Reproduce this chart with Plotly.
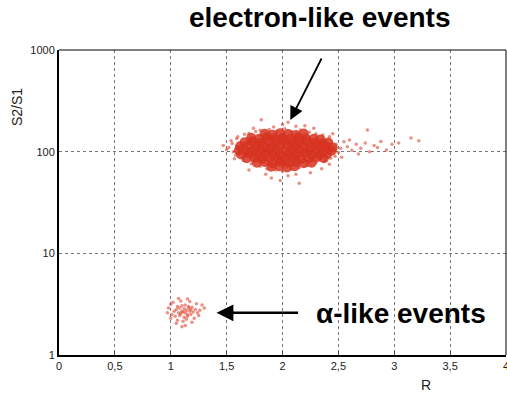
import plotly.graph_objects as go
import math

# Electron-like events: dense core
core_x = [1.84,1.91,1.98,2.05,2.12,2.19,
          1.72,1.79,1.86,1.93,2.00,2.07,2.14,2.21,2.28,2.34,
          1.66,1.73,1.80,1.87,1.94,2.01,2.08,2.15,2.22,2.29,2.36,2.41,
          1.62,1.69,1.76,1.83,1.90,1.97,2.04,2.11,2.18,2.25,2.32,2.39,2.45,
          1.61,1.68,1.75,1.82,1.89,1.96,2.03,2.10,2.17,2.24,2.31,2.38,2.44,
          1.63,1.70,1.77,1.84,1.91,1.98,2.05,2.12,2.19,2.26,2.33,2.40,
          1.68,1.75,1.82,1.89,1.96,2.03,2.10,2.17,2.24,2.31,2.37,
          1.77,1.84,1.91,1.98,2.05,2.12,2.19,2.26,
          1.90,1.97,2.04,2.11]
core_y = [150,147,152,149,146,151,
          137,134,138,135,136,133,137,135,134,132,
          124,126,122,125,123,126,121,124,125,122,120,123,
          113,115,112,114,111,113,115,112,114,111,113,112,110,
          103,101,104,102,105,103,101,104,102,103,101,104,102,
          94,96,93,95,94,92,95,93,96,94,93,95,
          86,87,85,88,86,84,87,85,86,88,86,
          78,79,77,80,78,79,77,78,
          71,72,70,72]

# Electron-like events: sparse halo
halo_x = [1.70,1.76,1.80,1.88,1.95,2.02,2.08,2.16,2.24,2.30,2.36,1.81,2.00,2.12,1.92,2.28,1.66,2.42,2.45,2.20,1.74,2.05,
          1.55,1.52,1.56,1.58,1.54,1.50,1.59,1.57,1.47,1.60,
          2.48,2.52,2.50,2.55,2.58,2.62,2.60,2.66,2.70,2.74,2.78,2.76,2.82,2.88,2.93,3.04,3.15,2.47,2.53,2.68,2.85,2.98,3.22,
          1.65,1.72,1.80,1.86,1.94,2.00,2.08,2.15,2.22,2.30,2.38,2.43,1.85,2.05,2.15,1.90,2.25,1.98,2.35,1.70,2.42,2.12]
halo_y = [152,158,162,165,160,168,158,163,155,150,146,206,185,178,175,170,148,140,150,180,170,195,
          120,110,100,92,128,105,135,85,115,140,
          118,108,98,125,112,103,130,118,108,122,100,163,115,126,104,122,136,90,88,95,110,118,128,
          82,76,72,68,66,64,67,70,73,78,82,86,60,58,49,55,62,52,68,66,75,60]

# Alpha-like events
alpha_x = [1.05,1.08,1.10,1.12,1.14,1.16,1.18,1.07,1.09,1.11,1.13,1.15,1.17,1.20,
           1.03,1.06,1.10,1.13,1.16,1.19,1.22,1.01,1.04,1.08,1.12,1.15,1.18,1.24,
           0.98,1.00,1.06,1.11,1.14,1.21,1.26,1.28,1.02,1.09,1.17,1.23,
           0.97,1.05,1.13,1.19,1.30,1.07,1.15,1.10,1.25,1.00]
alpha_y = [2.8,2.9,2.7,2.85,2.75,2.9,2.8,2.6,2.55,2.65,2.6,2.5,2.7,2.65,
           2.7,3.0,3.05,3.1,3.0,2.95,2.8,2.5,2.4,2.45,2.35,2.4,2.5,2.6,
           2.9,2.3,2.2,2.15,2.25,2.3,2.75,3.1,3.3,3.4,3.35,3.2,
           2.6,2.05,1.95,2.1,2.9,3.6,3.55,1.9,2.45,3.15]

x_ticks = [0, 0.5, 1, 1.5, 2, 2.5, 3, 3.5, 4]
x_ticktext = ["0", "0,5", "1", "1,5", "2", "2,5", "3", "3,5", "4"]
y_ticks = [1, 10, 100, 1000]
y_ticktext = ["1", "10", "100", "1000"]

red = "rgba(214,50,32,0.85)"
red_light = "rgba(222,70,50,0.6)"

fig = go.Figure()
fig.add_trace(go.Scatter(x=halo_x, y=halo_y, mode="markers",
                         marker=dict(size=3.5, color=red_light, line=dict(width=0)),
                         showlegend=False, hoverinfo="skip"))
fig.add_trace(go.Scatter(x=core_x, y=core_y, mode="markers",
                         marker=dict(size=10, color=red, line=dict(width=0)),
                         showlegend=False))
fig.add_trace(go.Scatter(x=alpha_x, y=alpha_y, mode="markers",
                         marker=dict(size=3.5, color=red_light, line=dict(width=0)),
                         showlegend=False))

font_family = "Liberation Sans, Arial, sans-serif"
fig.update_layout(
    width=507, height=398,
    margin=dict(l=59, r=1, t=50, b=43),
    paper_bgcolor="white", plot_bgcolor="white",
    font=dict(family=font_family, size=11, color="#222"),
    xaxis=dict(range=[0, 4], tickvals=x_ticks, ticktext=x_ticktext,
               showgrid=True, gridcolor="#777", griddash="dot", gridwidth=1,
               showline=True, linecolor="black", linewidth=2,
               ticks="inside", ticklen=4, tickcolor="#444", zeroline=False,
               automargin=False, ticklabeloverflow="allow"),
    yaxis=dict(type="log", range=[0, 3], tickvals=y_ticks, ticktext=y_ticktext,
               showgrid=True, gridcolor="#777", griddash="dot", gridwidth=1,
               showline=True, linecolor="black", linewidth=2,
               ticks="", zeroline=False, automargin=False),
    shapes=[
        dict(type="line", xref="paper", yref="paper", x0=0, x1=1, y0=1, y1=1,
             line=dict(color="black", width=1)),
        dict(type="line", xref="paper", yref="paper", x0=1, x1=1, y0=0, y1=1,
             line=dict(color="black", width=1)),
    ],
    annotations=[
        dict(text="<b>electron-like events</b>", xref="paper", yref="paper",
             x=(319 - 59) / 447, y=1 + (50 - 18) / 305, showarrow=False,
             font=dict(size=28, color="black", family=font_family),
             xanchor="center", yanchor="middle"),
        dict(text="<b>α-like events</b>", xref="paper", yref="paper",
             x=(401 - 59) / 447, y=(355 - 313) / 305, showarrow=False,
             font=dict(size=28, color="black", family=font_family),
             xanchor="center", yanchor="middle"),
        dict(text="S2/S1", xref="paper", yref="paper",
             x=(17 - 59) / 447, y=(355 - 107) / 305, showarrow=False,
             textangle=-90, font=dict(size=14, color="#222"),
             xanchor="center", yanchor="middle"),
        dict(text="R", xref="paper", yref="paper",
             x=(426 - 59) / 447, y=-(385 - 355) / 305, showarrow=False,
             font=dict(size=14, color="#222"),
             xanchor="center", yanchor="middle"),
        dict(text="", x=2.07, y=math.log10(205), xref="x", yref="y",
             showarrow=True, ax=32, ay=-63, arrowhead=2, arrowsize=1.5,
             arrowwidth=1.8, arrowcolor="black", standoff=0),
        dict(text="", x=1.41, y=math.log10(2.6), xref="x", yref="y",
             showarrow=True, ax=83, ay=0, arrowhead=2, arrowsize=1.4,
             arrowwidth=2.4, arrowcolor="black", standoff=0),
    ],
)

fig.write_html("out.html", config={"displayModeBar": False},
               post_script="document.body.style.margin='0px';document.body.style.overflow='hidden';")
